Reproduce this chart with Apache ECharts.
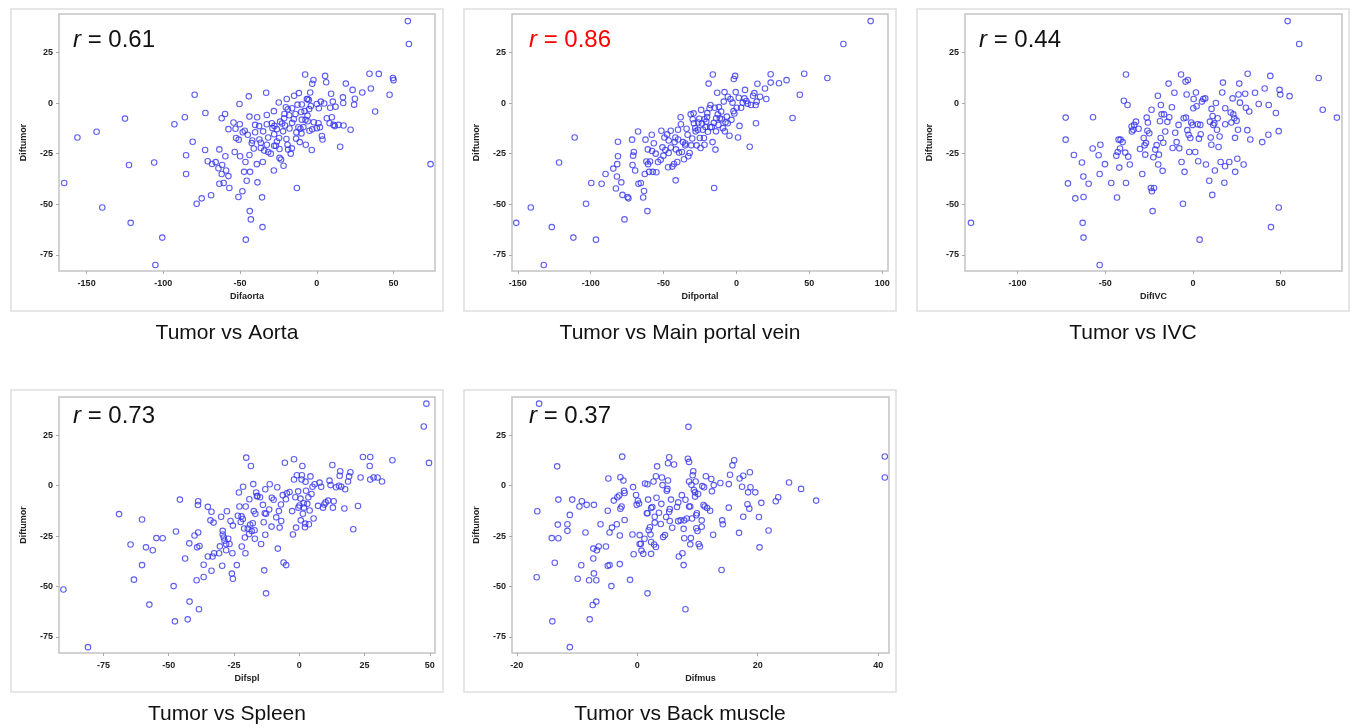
<!DOCTYPE html>
<html>
<head>
<meta charset="utf-8">
<title>Diftumor scatter panels</title>
<script src="https://cdn.jsdelivr.net/npm/echarts@6.0.0/dist/echarts.min.js"></script>
<style>
  html, body { margin: 0; padding: 0; background: #fff; }
  #chart { width: 1354px; height: 728px; }
</style>
</head>
<body>
<div id="chart"></div>
<script>
// ---- data ----
var captions = ['Tumor vs Aorta', 'Tumor vs Main portal vein', 'Tumor vs IVC', 'Tumor vs Spleen', 'Tumor vs Back muscle']
var xNames = ['Difaorta', 'Difportal', 'DifIVC', 'Difspl', 'Difmus']
var rValues = ['0.61', '0.86', '0.44', '0.73', '0.37']
var yTicks = [-75, -50, -25, 0, 25]
var xTicks = [
  [-150, -100, -50, 0, 50],
  [-150, -100, -50, 0, 50, 100],
  [-100, -50, 0, 50],
  [-75, -50, -25, 0, 25, 50],
  [-20, 0, 20, 40]
]
var xRanges = [[-168, 77], [-154, 104], [-130, 85], [-92, 52], [-20.8, 41.8]]
var yRange = [-83, 44]

var aortaData = [
  [-164.6,-39.5],[-156,-17],[-143.5,-14.2],[-139.8,-51.6],[-125,-7.7],[-122.4,-30.6],[-121.3,-59.2],[-106,-29.4],[-105.2,-80],[-100.7,-66.5],
  [-92.8,-10.5],[-86,-7],[-85.2,-25.8],[-85.2,-35.1],[-80.9,-19.1],[-79.6,4.1],[-78.3,-49.8],[-75,-47.1],[-72.6,-4.9],[-72.8,-23.2],
  [-71.1,-28.8],[-68.9,-45.6],[-68.3,-30.1],[-65.9,-29.2],[-64.1,-32.2],[-63.5,-22.9],[-63.5,-39.9],[-62,-7.5],[-61.7,-30.6],[-62,-35.1],
  [-60.7,-39.5],[-59.8,-5.4],[-59.6,-26.3],[-59.1,-33.3],[-57.6,-36.1],[-57.6,-12.9],[-57,-42],[-54.3,-9.6],[-53.5,-24.2],[-53,-12.7],
  [-52.6,-17.3],[-51.1,-46.4],[-50.9,-18.1],[-50.4,-0.5],[-50.2,-10.5],[-50,-26.3],[-48.5,-43.6],[-48.3,-14.4],[-47.4,-34],[-47,-13.7],
  [-46.5,-29.1],[-46.3,-67.5],[-45.7,-38.4],[-45,-15.7],[-44.3,3.3],[-43.9,-6.7],[-43.9,-25.7],[-43.7,-53.4],[-43.5,-34],[-43,-57.5],
  [-42.4,-19.8],[-42,-18.5],[-41.1,-22.5],[-40.2,-14.4],[-40.2,-10.8],[-39.1,-30.2],[-38.9,-7],[-38.7,-39.2],[-37.6,-11.4],[-37.4,-18],
  [-36.5,-19.6],[-36.5,-22.2],[-35.7,-46.6],[-35.4,-61.3],[-35.2,-29.1],[-34.3,-23.5],[-33,5.1],[-32.6,-5.9],[-32.6,-10.5],[-32.6,-20.6],
  [-31.7,-17],[-31.7,-24.2],[-29.3,-10],[-28.9,-12.4],[-28,-33.3],[-27.8,-21.1],[-27.8,-15.4],[-27.6,-11.3],[-26.7,-21.1],[-26.1,-12.9],
  [-24.8,0.3],[-24.6,-17.3],[-24.3,-22.7],[-24.3,-27.1],[-23.9,-9.2],[-23.3,-27.9],[-22.6,-10.1],[-21.7,-31],[-21.3,-7.5],[-21.1,-5.4],
  [-20.7,-11.1],[-20.2,-2.1],[-19.8,-17.8],[-19.6,2],[-19.1,-20.6],[-18.9,-3.1],[-18.7,-23],[-17.8,-12.6],[-16.3,-22.4],[-16.1,-2.6],
  [-16.1,-9.8],[-14.8,3.6],[-13.9,-5.4],[-13.5,-17.6],[-13.3,-14.5],[-13,-42],[-12.6,-0.8],[-11.7,4.9],[-11.1,-19.3],[-10.7,-12.7],
  [-10.2,-4.4],[-9.8,-8.2],[-9.8,-0.7],[-8.7,-11.9],[-7.6,14.1],[-7.4,-8.3],[-7.2,-20.6],[-6.5,2],[-6.1,-6.2],[-5.9,-9],
  [-5.2,1.5],[-4.8,-13.7],[-4.3,5.2],[-3.9,-1.5],[-3.3,-23.2],[-3,9.5],[-2.2,11.4],[-2,-9.5],[0,-12.4],[0,-0.5],
  [1.1,-10],[1.3,-2.6],[2.6,0.7],[3.3,-16.3],[3.7,-18],[4.8,-0.2],[5.4,13.4],[6.1,10.3],[6.5,-7.5],[8.3,-10],
  [8.7,-2.3],[9.3,4.6],[9.8,-7],[10.4,0.7],[10.9,-10.8],[11.7,-11.4],[12.2,-1.8],[14.1,-10.8],[15.2,-21.6],[17,2.8],
  [17.2,0],[17.4,-11.1],[18.9,9.6],[22,-13.2],[23.3,6.5],[24.3,-0.8],[24.8,2.1],[29.6,5.2],[34.3,14.5],[35.2,7.2],
  [38,-4.2],[40.4,14.4],[47.4,4.1],[49.6,12.4],[50,11.3],[59.3,40.5],[60,29.2],[74.1,-30.2],
  [-18,-6],[-15,-8],[-12,-12],[-22,-14],[-8,-4],[-3,-13],[-26,-19],[-30,-25],[-35,-14],[-10,-15],
  [-5,-3],[2,-12],[-17,-25],[-28,-4],[-6,2]
]

var portalData = [
  [-151.1,-59.2],[-141.1,-51.6],[-126.7,-61.3],[-121.7,-29.4],[-111.9,-66.5],[-111,-17],[-103.2,-49.8],[-99.6,-39.5],[-96.4,-67.5],[-92.5,-39.9],
  [-89.8,-35.1],[-132.2,-80],[-84.5,-32.4],[-82.7,-42.2],[-82,-36.3],[-81.8,-30.2],[-81.3,-26.3],[-81.3,-19.1],[-79,-39.2],[-78.2,-45.4],
  [-76.8,-57.5],[-74.7,-46.4],[-74.1,-47.1],[-71.6,-18.1],[-71.3,-30.6],[-70.9,-26],[-70.4,-24.2],[-69.5,-33.3],[-67.5,-14.1],[-67.2,-39.9],
  [-65.6,-39.5],[-64,-46.7],[-63.4,-43.5],[-62.9,-35.1],[-62.4,-18.1],[-61.8,-28.9],[-61.1,-53.4],[-60.8,-22.9],[-60.6,-30.2],[-59.9,-34],
  [-59.3,-28.9],[-58.1,-15.7],[-57.9,-23.7],[-57.4,-34],[-56.7,-19.9],[-55.4,-25],[-54.9,-34.2],[-53.8,-29.1],[-51.5,-13.7],[-50.8,-21.9],
  [-50.1,-26],[-49.4,-17],[-48.8,-23.2],[-47.6,-15.5],[-46.9,-31.7],[-46.5,-18.5],[-46.5,-24.7],[-45.1,-13.7],[-44,-31.4],[-42.8,-30.1],
  [-42.4,-19.3],[-41.9,-17],[-41.7,-38.2],[-41.5,-22.9],[-40.6,-29.1],[-40.1,-13.2],[-39.4,-24.5],[-38.3,-7],[-38.1,-10.5],[-37.4,-24.2],
  [-36.7,-19.3],[-36,-27.8],[-35.1,-20.9],[-34.2,-12.7],[-33.5,-15.7],[-33,-26.3],[-32.1,-24.7],[-31.4,-5.6],[-31,-20.9],[-30.3,-17.5],
  [-29.4,-5.1],[-29.2,-10],[-28.3,-12.4],[-27.3,-20.9],[-26.4,-13.2],[-26.2,-9.6],[-25.5,-7.8],[-25.1,-17.3],[-24.6,-22.2],[-24.2,-3.4],
  [-23.7,-10.1],[-23,-13.2],[-22.3,-17.3],[-21.9,-20.6],[-21.2,-11.9],[-20.7,-9.2],[-20.1,-6.9],[-19.6,-14.2],[-19.1,9.6],[-18.5,-2.6],
  [-17.8,-1],[-16.9,-11.8],[-16.4,-19.3],[-16.2,14.1],[-15.5,-9.8],[-15.3,-42],[-14.8,-2.3],[-14.4,-23],[-13.9,-7.5],[-13.2,5.1],
  [-12.8,-5.6],[-12.3,-10.8],[-11.4,-7.5],[-10.5,-4.2],[-9.3,-12.4],[-8.7,0.7],[-8.2,5.4],[-7.5,-9.5],[-6.6,-6.7],[-5.9,3.1],
  [-4.8,-16.2],[-4.1,2],[-3.4,-8.3],[-2.7,0.2],[-1.8,11.9],[-1.4,-5.2],[-0.9,13.4],[-0.5,5.4],[0.2,-2.3],[1.1,-17],
  [1.6,2.6],[2.1,-11.3],[3.2,-2.3],[4.3,0.2],[5.5,2.3],[5.9,6.5],[6.8,1],[7.7,-0.3],[9.1,-21.6],[10,-1],
  [11.4,3.6],[12.3,4.9],[13.2,-1],[13.4,-10],[13.9,0.7],[14.4,9.5],[16.2,3.1],[19.6,7.2],[20.5,2],[23.5,10.1],
  [23.5,14.2],[29.2,9.8],[34.4,11.3],[38.5,-7.4],[43.5,4.1],[46.5,14.5],[62.4,12.4],[73.4,29.2],[92.1,40.5],
  [-30,-8],[-22,-8],[-18,-12],[-14,-14],[-10,-8],[-6,-10],[-35,-20],[-28,-14],[-40,-18],[-45,-22],
  [-52,-28],[-20,-5],[-12,-2],[-8,-14],[-2,-4]
]

var ivcData = [
  [-126.6,-59.2],[-72.6,-7.2],[-72.6,-18.1],[-71.3,-39.7],[-67.9,-25.7],[-67.1,-47.1],[-63.3,-29.4],[-62.9,-59.2],[-62.5,-36.3],[-62.4,-46.4],
  [-62.4,-66.5],[-59.5,-39.9],[-57.2,-22.5],[-57,-7],[-53.8,-25.8],[-53.2,-35.1],[-52.8,-20.6],[-53.2,-80],[-50.2,-30.2],[-46.6,-39.5],
  [-43.7,-26],[-43.3,-46.7],[-42.9,-24.2],[-42.4,-18.1],[-42,-31.9],[-41.6,-22.5],[-41.3,-18.1],[-40.1,-19.3],[-39.4,1.1],[-38.6,-24.5],
  [-38.2,14.1],[-38.2,-39.5],[-37.3,-1],[-36.9,-26.5],[-36,-30.4],[-35,-11.6],[-34.8,-14.1],[-34,-13.2],[-33.5,-10.8],[-32.5,-9.2],
  [-31,-12.7],[-30.2,-22.7],[-28.9,-35.1],[-28.1,-17.3],[-27.6,-20.9],[-27.2,-25.5],[-26.8,-19.8],[-26.4,-7.2],[-26,-13.7],[-25.7,-9.6],
  [-24.9,-14.9],[-24,-42],[-23.6,-3.3],[-23.4,-43.6],[-23,-53.4],[-22.6,-26.8],[-22.2,-42],[-21.5,-23],[-20.7,-20.8],[-20,3.6],
  [-19.8,-30.4],[-19.4,-25.5],[-18.8,-9],[-18.4,-17.3],[-18.3,-1],[-17.9,-5.6],[-17.3,-33.5],[-16.9,-19.6],[-16.5,-5.6],[-15.8,-14.1],
  [-14.6,-9.3],[-13.9,9.6],[-13.5,-7],[-12,-2.1],[-11.6,-22.2],[-10.6,5.1],[-10.1,-14.7],[-9.3,-19.3],[-8.2,-10.8],[-7.8,-22.4],
  [-6.8,14.1],[-6.5,-29.1],[-5.7,-49.8],[-5.3,-7.5],[-4.8,-34],[-4.2,10.6],[-4,-7.2],[-3.6,4.2],[-3.2,-13.4],[-2.9,11.4],
  [-2.5,-15.7],[-2.1,-24.2],[-1.5,-17.3],[-1,-9.6],[-0.2,-10.8],[0.2,-2.6],[0.4,2],[1.3,-24.2],[1.7,5.2],[2.1,-1.6],
  [2.7,-10.5],[3,-28.8],[3.4,-17.6],[3.8,-67.5],[4.2,-10.8],[4.4,-15.4],[5.1,0.7],[5.9,2],[7,2.3],[7.4,-30.4],
  [9.3,-38.4],[9.7,-9.2],[10.1,-17],[10.5,-20.6],[10.6,-2.9],[11,-45.4],[11.2,-6.4],[11.6,-10.8],[12.2,-10],[12.5,-33.3],
  [13.1,0],[13.7,-13.2],[14.1,-7.5],[14.6,-21.7],[15.2,-16.5],[15.8,-29.1],[16.7,5.2],[17.1,10.1],[17.9,-39.4],[18.3,-31.2],
  [18.4,-2.6],[18.4,-10.5],[20.7,-29.1],[21.5,-4.7],[21.9,-9.6],[22.6,2.3],[23,-5.6],[23.6,-7.5],[24,-17.2],[24.1,-34],
  [24.9,-8.7],[25.3,-27.5],[25.7,-13.2],[26,4.2],[26.4,9.6],[26.8,0.2],[28.9,-30.4],[29.8,4.6],[30.2,-2.3],[31,-13.4],
  [31.2,14.5],[32.1,-4.2],[32.7,-18],[35.4,5.1],[37.5,-0.5],[39.5,-19.3],[40.9,7.2],[43.2,-1],[43,-15.7],[44.1,13.4],
  [44.5,-61.3],[47.3,-4.9],[48.9,-13.9],[48.9,-51.6],[49.4,6.5],[49.8,4.2],[55.1,3.4],[54,40.5],[60.6,29.2],[71.7,12.4],
  [74,-3.3],[82.1,-7.2]
]

var spleenData = [
  [-90.3,-51.5],[-80.9,-80.1],[-69,-14.1],[-64.6,-29.2],[-63.3,-46.6],[-60.2,-16.8],[-60.2,-39.4],[-58.7,-30.6],[-57.4,-59],[-56.1,-32],
  [-54.7,-26],[-52.3,-26.1],[-48.1,-49.8],[-47.6,-67.3],[-47.2,-22.7],[-45.7,-6.9],[-43.7,-36.1],[-42.7,-66.3],[-42.1,-28.6],[-42,-57.5],
  [-40.1,-24.7],[-39.3,-46.9],[-39.1,-30.6],[-38.8,-9.6],[-38.7,-7.7],[-38.7,-23.2],[-38.4,-61.3],[-38.2,-29.9],[-36.6,-39.2],[-36.6,-45.3],
  [-35,-10.5],[-35,-35.1],[-34,-17.2],[-33.6,-12.9],[-33.6,-42.2],[-33.2,-35.1],[-32.8,-18.3],[-32.6,-33.5],[-30.7,-33.5],[-30.4,-30.1],
  [-29.9,-15.4],[-29.5,-39.7],[-29.3,-22.4],[-29.3,-24.2],[-28.9,-25.7],[-28.6,-27.3],[-28,-32],[-28,-28.9],[-27.7,-12.7],[-27.2,-26.3],
  [-26.7,-28.9],[-26.3,-17.5],[-25.8,-43.6],[-25.6,-33.5],[-25.4,-46.2],[-25.4,-19.8],[-23.9,-39.4],[-23.5,-14.9],[-23.1,-3.4],[-22.9,-10.3],
  [-22.4,-18],[-22.1,-15.2],[-22,-30.2],[-21.6,-16.5],[-21.5,-0.5],[-21.1,-21.2],[-20.8,-25.7],[-20.6,-33.5],[-20.5,-10.3],[-20.3,13.9],
  [-19.7,-21.2],[-19.2,-24],[-19.1,-6.7],[-18.8,-19.4],[-18.5,9.8],[-18.2,-22.5],[-17.8,-18.6],[-17.6,0.8],[-17.4,-12.6],[-17.1,-22.1],
  [-17,-26.3],[-16.8,-13.9],[-16.5,-3.4],[-16.2,-5.2],[-16,-5.1],[-15,-5.7],[-14.6,-28.9],[-13.9,-9.5],[-13.6,-18.1],[-13.4,-42],
  [-13.2,-13.7],[-13,-24.3],[-13,-1.8],[-12.7,-53.4],[-12.7,-13.9],[-11.5,-11.8],[-11.3,0.7],[-10.6,-20.3],[-10.5,-6],[-9.8,-7],
  [-8.8,-15.7],[-8.4,-0.8],[-8.2,-31.2],[-7.8,-12.6],[-7.5,-20.8],[-7,-9.3],[-6.9,-17.5],[-6.3,-4.7],[-6,-38.1],[-5.5,11.4],
  [-5.1,-6.7],[-5,-39.4],[-4.7,-3.8],[-3.7,-3.1],[-2.7,-12.6],[-2.4,-24.2],[-2,3.1],[-2,13.1],[-1.5,-5.7],[-1.2,-20.8],
  [-0.9,5.2],[-0.4,-2.8],[-0.3,-10.9],[0.1,-9.8],[0.5,-6.4],[0.6,-17.2],[0.9,3.1],[1,5.2],[1.2,9.8],[1.4,-13.9],
  [1.7,-8.7],[1.8,-10.9],[2.2,-20.6],[2.3,-18.8],[2.4,2],[2.6,-2.5],[3.1,-9],[3.5,-5.7],[3.7,-19.1],[4,-12.3],
  [4.3,4.6],[4.7,-4.1],[5.1,-0.5],[5.5,-16.3],[5.9,0.7],[7.2,-10],[7.8,1.5],[8.4,-0.5],[9.1,-10.9],[9.6,-9.3],
  [10.1,-8.3],[11.1,-7.4],[11.6,2.5],[12,0.3],[12.7,10.3],[12.9,-10.9],[13.2,-7.7],[14.1,-0.8],[15.2,0],[15.5,4.9],
  [15.7,7.2],[16.1,-0.5],[17.3,-11.3],[17.6,-1.8],[18.7,2.1],[19.1,4.6],[19.6,6.7],[20.7,-21.6],[22.5,-10.1],[23.5,4.1],
  [24.4,14.2],[27,9.8],[27.2,14.2],[27.2,3.1],[28.5,4.1],[30,4.1],[31.7,2.1],[35.7,12.6],[47.7,29.4],[48.7,40.7],
  [49.7,11.3]
]

var muscleData = [
  [-16.3,40.7],[-16.7,-45.4],[-16.6,-12.7],[-14.2,-26],[-14.1,-67.3],[-13.7,-38.2],[-13.3,9.6],[-13.2,-19.3],[-13.1,-6.9],[-13.1,-26.1],
  [-11.6,-19.1],[-11.6,-22.4],[-11.2,-14.5],[-11.2,-80.1],[-10.8,-6.9],[-9.9,-46.2],[-9.6,-10.3],[-9.3,-39.5],[-9.2,-7.7],[-8.6,-23.2],
  [-8.4,-9.5],[-8,-46.9],[-7.9,-66.3],[-7.4,-59.2],[-7.3,-36.1],[-7.3,-31.2],[-7.2,-43.5],[-7.2,-9.5],[-6.8,-46.9],[-6.8,-57.5],
  [-6.7,-32],[-6.4,-30.2],[-6.1,-19.1],[-5.2,-30.2],[-4.9,-39.7],[-4.8,3.6],[-4.9,-12.4],[-4.6,-39.4],[-4.6,-23.2],[-4.3,-49.8],
  [-4.2,-20.8],[-3.9,-7.4],[-3.4,-19.1],[-3.3,-5.7],[-3,-4.9],[-2.9,-38.9],[-2.9,-24.7],[-2.8,4.2],[-2.8,-11.4],[-2.6,-10.3],
  [-2.5,14.4],[-2.3,2.6],[-2.2,-2.5],[-2.1,-3.6],[-2.1,-17],[-1.2,-46.7],[-0.8,-24.2],[-0.7,-0.7],[-0.6,-34],[-0.2,-4.6],
  [-0.1,-9.5],[0.1,-7.5],[0.3,-8.8],[0.4,-24.5],[0.4,-28.9],[0.6,-28.8],[0.7,-32.2],[1,-33.8],[1.2,-26.3],[1.3,1.1],
  [1.6,-13.7],[1.7,-13.7],[1.7,0.7],[1.7,-53.4],[1.8,-6.9],[1.9,-22.1],[2.1,-20.6],[2.2,-24.2],[2.3,-27.9],[2.3,-33.8],
  [2.3,-11.1],[2.5,-10.6],[2.7,2.1],[2.8,-29.2],[2.9,-18.3],[2.9,-15.4],[3.1,4.7],[3.1,-30.4],[3.2,-6],[3.3,9.6],
  [3.6,-13.4],[3.9,-19],[4,-9],[4.1,4.1],[4.2,0.3],[4.3,-25.5],[4.6,-24.5],[4.8,-15.5],[4.9,-2.5],[5,-1.6],
  [5.1,11.1],[5.1,2.6],[5.3,14.1],[5.3,-12.9],[5.4,-11.6],[5.4,-17.5],[5.6,-6.9],[5.8,-20.9],[6.1,10.5],[6.6,-10.6],
  [6.8,-17.6],[6.8,-8.3],[6.9,-35.1],[7.2,-17.2],[7.4,-4.7],[7.5,-33.5],[7.7,-21.4],[7.7,-39.4],[7.8,-26.1],[7.8,-17.2],
  [8,-7],[8,-61.3],[8.2,-16.3],[8.4,13.4],[8.5,29.2],[8.6,11.8],[8.6,-10.3],[8.6,2.1],[8.8,-10.3],[8.8,-29.1],
  [8.9,-26],[9,0.5],[9.1,-16.3],[9.2,5.2],[9.3,7.2],[9.4,-2.1],[9.6,-3.3],[9.6,-5.4],[9.7,2.1],[9.8,-21.1],
  [9.8,-14.7],[9.9,-13.7],[10,-22.5],[10.1,-4.1],[10.2,-28.9],[10.4,-30.2],[10.7,-17.2],[10.7,-20.4],[10.8,-0.2],[11,-9.6],
  [11.1,-0.8],[11.2,-10.3],[11.4,4.7],[11.6,-11.1],[12.1,-12.4],[12.3,3.3],[12.4,-2.8],[12.6,-24.3],[12.7,0.3],[13.8,1.3],
  [14,-41.8],[14.1,-17.2],[14.2,-19.1],[15.2,-10.9],[15.2,0.8],[15.4,5.4],[15.8,10.1],[16.1,12.6],[16.9,-23.4],[17,3.6],
  [17.4,-0.5],[17.6,-15.4],[17.6,4.9],[18.3,-9.2],[18.4,-3.3],[18.6,-11.4],[18.7,6.7],[18.8,-0.8],[19.6,-3.3],[20.2,-15.5],
  [20.3,-30.6],[20.6,-8.5],[21.8,-22.2],[23,-7.7],[23.4,-5.7],[25.2,1.6],[27.2,-1.6],[29.7,-7.4],[41.1,14.5],[41.1,4.1]
]

var seriesData = [aortaData, portalData, ivcData, spleenData, muscleData]

// ---- layout ----
var plotBoxes = [ // left, top, width, height of each plot area
  [59, 14, 376, 257], [512, 14, 376, 257], [965, 14, 377, 257],
  [59, 397, 376, 256], [512, 397, 377, 256]
]
var frames = [ // outer light frame round each panel
  [11, 9, 432, 302], [464, 9, 432, 302], [917, 9, 432, 302],
  [11, 390, 432, 302], [464, 390, 432, 302]
]
var rPos = [[73, 40], [529, 40], [979, 40], [73, 416], [529, 416]]
var captionY = [333, 333, 333, 714, 714]

var boxColor = '#c4c4c4'
var labelStyle = { fontFamily: 'Liberation Sans, Arial, sans-serif', fontSize: 9, fontWeight: 'bold', color: '#222' }

var option = {
  animation: false,
  backgroundColor: '#fff',
  grid: [],
  xAxis: [],
  yAxis: [],
  series: [],
  graphic: []
}

seriesData.forEach(function (data, i) {
  var b = plotBoxes[i]
  option.grid.push({
    left: b[0], top: b[1], width: b[2], height: b[3],
    show: true, borderColor: boxColor, borderWidth: 1.5, backgroundColor: '#fff'
  })
  option.xAxis.push({
    gridIndex: i,
    type: 'value',
    position: 'bottom',
    min: xRanges[i][0], max: xRanges[i][1],
    name: xNames[i], nameLocation: 'middle', nameGap: 21,
    nameTextStyle: labelStyle,
    axisLine: { show: false, onZero: false },
    axisTick: { show: true, length: 3, lineStyle: { color: '#aaa' }, customValues: xTicks[i] },
    axisLabel: Object.assign({ customValues: xTicks[i], margin: 8 }, labelStyle),
    splitLine: { show: false }
  })
  option.yAxis.push({
    gridIndex: i,
    type: 'value',
    position: 'left',
    min: yRange[0], max: yRange[1],
    name: 'Diftumor', nameLocation: 'middle', nameGap: 31,
    nameTextStyle: labelStyle,
    axisLine: { show: false, onZero: false },
    axisTick: { show: true, length: 3, lineStyle: { color: '#aaa' }, customValues: yTicks },
    axisLabel: Object.assign({ customValues: yTicks, margin: 6 }, labelStyle),
    splitLine: { show: false }
  })
  option.series.push({
    type: 'scatter',
    xAxisIndex: i, yAxisIndex: i,
    data: data,
    symbol: 'circle',
    symbolSize: 5.5,
    itemStyle: { color: 'rgba(0,0,0,0)', borderColor: '#3535ee', borderWidth: 1.1 },
    silent: true
  })

  var f = frames[i]
  option.graphic.push({
    type: 'rect', z: -1,
    shape: { x: f[0], y: f[1], width: f[2], height: f[3] },
    style: { fill: 'none', stroke: '#dedede', lineWidth: 1.5 }
  })
  option.graphic.push({
    type: 'text', z: 10,
    x: rPos[i][0], y: rPos[i][1],
    style: {
      text: '{i|r} = ' + rValues[i],
      textVerticalAlign: 'middle',
      fill: i === 1 ? '#ff0000' : '#111',
      font: '24px "Liberation Sans", Arial, sans-serif',
      rich: { i: { fontStyle: 'italic', fontSize: 24, fontFamily: 'Liberation Sans, Arial, sans-serif', fill: i === 1 ? '#ff0000' : '#111' } }
    }
  })
  option.graphic.push({
    type: 'text',
    x: f[0] + f[2] / 2, y: captionY[i],
    style: {
      text: captions[i],
      textAlign: 'center', textVerticalAlign: 'middle',
      fill: '#111',
      font: '21px "Liberation Sans", Arial, sans-serif'
    }
  })
})

var chart = echarts.init(document.getElementById('chart'), null, { renderer: 'canvas' })
chart.setOption(option)
</script>
</body>
</html>
